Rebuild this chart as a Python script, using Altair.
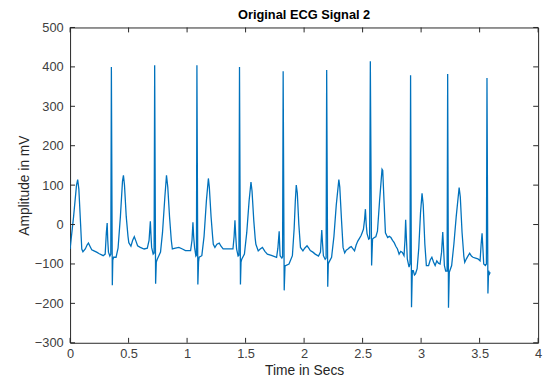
import altair as alt
import pandas as pd

# ECG trace (time in s, amplitude in mV)
t_secs = [
    0.000, 0.030, 0.055, 0.065, 0.075, 0.090, 0.100, 0.110, 0.130, 0.145, 0.157, 0.170, 0.185, 0.200, 0.227, 0.250, 0.270, 0.283, 0.300, 0.310, 0.317, 0.322, 0.328, 0.340, 0.348,
    0.353, 0.361, 0.365, 0.372, 0.393, 0.410, 0.430, 0.448, 0.456, 0.465, 0.480, 0.495, 0.502, 0.520, 0.535, 0.549, 0.563, 0.577, 0.600, 0.633, 0.660, 0.675, 0.686, 0.692, 0.697, 0.710, 0.718,
    0.723, 0.731, 0.737, 0.745, 0.773, 0.790, 0.810, 0.824, 0.835, 0.850, 0.865, 0.874, 0.900, 0.930, 0.960, 0.986, 1.030, 1.042, 1.050, 1.056, 1.064, 1.075, 1.080,
    1.084, 1.092, 1.098, 1.103, 1.126, 1.145, 1.165, 1.182, 1.190, 1.205, 1.218, 1.224, 1.238, 1.255, 1.275, 1.290, 1.308, 1.350, 1.392, 1.402, 1.409, 1.416, 1.423, 1.436, 1.443,
    1.448, 1.456, 1.461, 1.467, 1.490, 1.510, 1.530, 1.546, 1.555, 1.570, 1.582, 1.588, 1.608, 1.625, 1.644, 1.665, 1.686, 1.720, 1.765, 1.776, 1.787, 1.791, 1.795, 1.810, 1.816,
    1.821, 1.830, 1.837, 1.843, 1.871, 1.900, 1.915, 1.925, 1.933, 1.942, 1.955, 1.969, 1.990, 2.005, 2.025, 2.040, 2.053, 2.075, 2.095, 2.123, 2.140, 2.151, 2.158, 2.165, 2.180, 2.188,
    2.193, 2.202, 2.207, 2.212, 2.235, 2.255, 2.275, 2.297, 2.305, 2.320, 2.333, 2.347, 2.360, 2.375, 2.390, 2.403, 2.418, 2.431, 2.445, 2.459, 2.473, 2.487, 2.497, 2.507, 2.516, 2.524, 2.531, 2.538, 2.552, 2.560,
    2.566, 2.577, 2.585, 2.600, 2.613, 2.627, 2.645, 2.666, 2.672, 2.683, 2.695, 2.714, 2.728, 2.742, 2.756, 2.770, 2.784, 2.798, 2.812, 2.826, 2.840, 2.854, 2.862, 2.868, 2.875, 2.882, 2.897, 2.905,
    2.910, 2.918, 2.925, 2.933, 2.943, 2.952, 2.966, 2.980, 2.995, 3.008, 3.018, 3.032, 3.045, 3.064, 3.078, 3.092, 3.106, 3.120, 3.134, 3.148, 3.162, 3.175, 3.185, 3.192, 3.199, 3.210, 3.222,
    3.227, 3.234, 3.241, 3.261, 3.280, 3.300, 3.325, 3.335, 3.350, 3.365, 3.373, 3.387, 3.400, 3.415, 3.430, 3.443, 3.465, 3.485, 3.504, 3.513, 3.521, 3.528, 3.535, 3.549, 3.558,
    3.563, 3.571, 3.577, 3.585, 3.590,
]
amp_mv = [
    -62, 20, 100, 114, 90, 0, -62, -69, -62, -52, -47, -55, -64, -66, -70, -74, -77, -79, -75, -20, 4, -40, -70, -80, -75,
    400, -154, -90, -83, -83, -60, 20, 110, 125, 100, 20, -30, -46, -55, -40, -31, -42, -54, -58, -62, -60, -40, 8, -30, -58, -75, -72,
    404, -150, -95, -88, -70, -20, 70, 125, 95, 20, -40, -62, -60, -58, -62, -66, -66, -40, 6, -30, -58, -80, -78,
    404, -152, -95, -83, -79, -30, 60, 117, 95, 20, -30, -50, -58, -50, -47, -55, -62, -62, -62, -30, 11, -30, -62, -80, -78,
    400, -152, -95, -88, -75, -20, 60, 108, 85, 10, -35, -50, -67, -62, -58, -68, -75, -78, -83, -60, -17, -50, -79, -85, -82,
    389, -167, -104, -104, -100, -79, -10, 60, 100, 80, 0, -58, -67, -60, -54, -60, -66, -70, -75, -80, -70, -14, -50, -79, -88, -85,
    392, -158, -100, -96, -83, -30, 50, 114, 95, 10, -58, -72, -65, -62, -58, -56, -62, -67, -52, -42, -35, -28, -20, -12, 10, 39, 0, -23, -37, -35,
    414, -104, -37, -33, -31, -17, 60, 140, 137, 60, -21, -33, -30, -33, -40, -46, -55, -62, -75, -68, -71, -79, -40, 12, -40, -87, -108, -100,
    379, -210, -117, -117, -128, -125, -112, -60, 30, 79, 50, -50, -104, -104, -90, -83, -95, -104, -92, -98, -100, -70, -19, -60, -104, -118, -118,
    382, -211, -121, -104, -50, 20, 94, 70, -20, -80, -96, -87, -80, -73, -80, -83, -85, -87, -92, -50, -22, -60, -100, -104, -100,
    372, -175, -117, -125, -121,
]
x_ticks = [0, 0.5, 1, 1.5, 2, 2.5, 3, 3.5, 4]
y_ticks = [-300, -200, -100, 0, 100, 200, 300, 400, 500]

W, H = 475, 320
TICK = 5
AX = "#262626"
FONT = "Liberation Sans"

df = pd.DataFrame({"t": t_secs, "v": amp_mv})
xt = pd.DataFrame({"t": x_ticks})
yt = pd.DataFrame({"v": y_ticks})

xs = alt.Scale(domain=[0, 4], nice=False, zero=False)
ys = alt.Scale(domain=[-300, 500], nice=False, zero=False)
axis_style = dict(ticks=False, domain=False, grid=False, labelFlush=False, labelOverlap=False,
                  labelFont=FONT, labelFontSize=13, labelColor="#404040",
                  titleFont=FONT, titleFontSize=14, titleFontWeight="normal", titleColor="#262626")
xa = alt.Axis(values=x_ticks, format="~g", title="Time in Secs", labelPadding=5, titlePadding=3,
              **axis_style)
ya = alt.Axis(values=y_ticks, title="Amplitude in mV", labelPadding=7, titlePadding=3,
              **axis_style)

line = alt.Chart(df).mark_line(color="#0072BD", strokeWidth=1.3, clip=True).encode(
    x=alt.X("t:Q", scale=xs, axis=xa),
    y=alt.Y("v:Q", scale=ys, axis=ya),
)

bottom = alt.Chart(xt).mark_rule(color=AX, strokeWidth=1).encode(
    x=alt.X("t:Q", scale=xs, axis=xa), y=alt.value(H), y2=alt.value(H - TICK))
top = alt.Chart(xt).mark_rule(color=AX, strokeWidth=1).encode(
    x=alt.X("t:Q", scale=xs, axis=xa), y=alt.value(0), y2=alt.value(TICK))
left = alt.Chart(yt).mark_rule(color=AX, strokeWidth=1).encode(
    y=alt.Y("v:Q", scale=ys, axis=ya), x=alt.value(0), x2=alt.value(TICK))
right = alt.Chart(yt).mark_rule(color=AX, strokeWidth=1).encode(
    y=alt.Y("v:Q", scale=ys, axis=ya), x=alt.value(W), x2=alt.value(W - TICK))

chart = alt.layer(line, bottom, top, left, right).properties(
    width=W, height=H,
    background="white",
    autosize=alt.AutoSizeParams(type="none"),
    padding={"left": 63, "top": 17, "right": 8, "bottom": 35},
    title=alt.TitleParams("Original ECG Signal 2", font=FONT, fontSize=13, fontWeight="bold",
                          color="#000000", anchor="middle", offset=1, dy=1),
).configure_view(stroke=AX, strokeWidth=1)

chart.save("out.html", embed_options={"renderer": "svg", "actions": False})
